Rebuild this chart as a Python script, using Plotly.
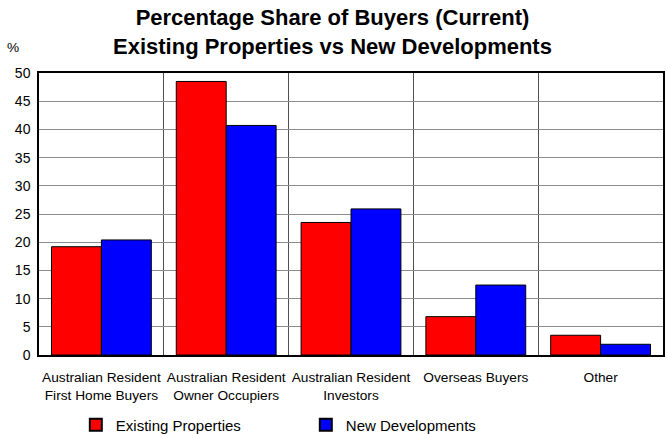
import plotly.graph_objects as go

categories = ["Australian Resident<br>First Home Buyers", "Australian Resident<br>Owner Occupiers",
              "Australian Resident<br>Investors", "Overseas Buyers", "Other"]
existing = [19.2, 48.5, 23.5, 6.8, 3.5]
new_dev = [20.4, 40.7, 25.9, 12.4, 1.9]
y_ticks = [0, 5, 10, 15, 20, 25, 30, 35, 40, 45, 50]

FONT = "Liberation Sans, Arial, sans-serif"

fig = go.Figure()
fig.add_trace(go.Bar(x=categories, y=existing, name="Existing Properties",
                     marker=dict(color="#ff0000", line=dict(color="black", width=1))))
fig.add_trace(go.Bar(x=categories, y=new_dev, name="New Developments",
                     marker=dict(color="#0000ff", line=dict(color="black", width=1))))

fig.update_layout(
    width=667, height=434,
    margin=dict(l=39, r=4, t=73, b=79, autoexpand=False),
    paper_bgcolor="white", plot_bgcolor="white",
    font=dict(family=FONT, size=13.7, color="black"),
    barmode="group", bargap=0.2, bargroupgap=0,
    showlegend=True,
    legend=dict(orientation="h", x=0.059, xanchor="left", y=-0.19, yanchor="top",
                entrywidth=185, entrywidthmode="pixels",
                font=dict(family=FONT, size=15), itemsizing="constant"),
    xaxis=dict(showline=True, linecolor="black", linewidth=1.5, mirror=True,
               tickson="boundaries", showgrid=True, gridcolor="#505050", gridwidth=1.2,
               ticks="", tickangle=0, ticklabelstandoff=9, tickfont=dict(size=13.7)),
    yaxis=dict(range=[0, 50], tickvals=y_ticks, showline=True, linecolor="black", linewidth=1.5,
               mirror=True, showgrid=True, gridcolor="#8c8c8c", gridwidth=1.2, ticks="",
               ticklabelstandoff=4, zeroline=False, tickfont=dict(size=14)),
    annotations=[
        dict(text="<b>Percentage Share of Buyers (Current)<br>Existing Properties vs New Developments</b>",
             xref="paper", yref="paper", x=0.471, y=1.145, showarrow=False,
             xanchor="center", yanchor="middle", align="center",
             font=dict(family=FONT, size=22, color="black")),
        dict(text="%", xref="paper", yref="paper", x=-0.042, y=1.092, showarrow=False,
             xanchor="center", yanchor="middle", font=dict(family=FONT, size=13.7))],
)

fig.write_html("out.html", config={"displayModeBar": False},
               post_script="document.body.style.margin='0';")
